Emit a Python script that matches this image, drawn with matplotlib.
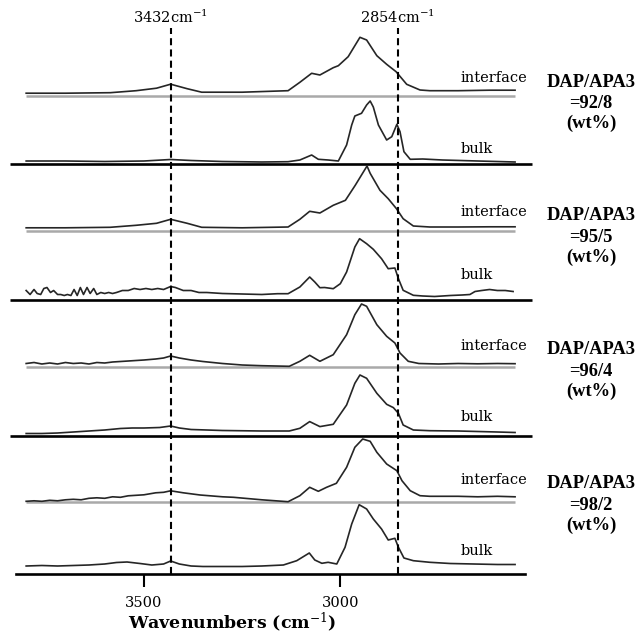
import matplotlib
matplotlib.use('Agg')
import matplotlib.pyplot as plt

plt.rcParams['mathtext.fontset'] = 'dejavuserif'

# ---------------- data (wavenumber, relative intensity) ----------------
groups = ['92/8', '95/5', '96/4', '98/2']
marker_wn = [3432, 2854]
xticks = [3500, 3000]

i1_wn = [3800, 3700, 3586, 3520, 3468, 3432, 3390, 3353, 3250, 3133, 3103, 3073, 3052, 3018, 3005,
         2980, 2950, 2933, 2907, 2882, 2858, 2831, 2797, 2772, 2700, 2620, 2555]
i1_h = [2.5, 2.5, 3, 5, 7.5, 11.5, 7, 3.5, 3.5, 5, 13.4, 22.4, 20.7, 28, 30,
        39, 58.4, 55.7, 40, 31.4, 24, 11.4, 5.7, 5, 5, 5.5, 5.5]

b1_wn = [3800, 3700, 3600, 3500, 3432, 3380, 3300, 3200, 3133, 3103, 3073, 3056, 3031, 3005, 2984,
         2971, 2963, 2946, 2933, 2924, 2916, 2903, 2882, 2869, 2856, 2848, 2838, 2822, 2790, 2740,
         2650, 2555]
b1_h = [3, 3, 2.5, 3, 4.5, 3.5, 2.5, 2, 2.3, 4, 9, 4.7, 4, 3, 19,
        39, 48, 50.7, 59, 63, 57, 39, 24, 27.3, 39.7, 32.3, 12.3, 4.7, 5, 4,
        3, 2]

i2_wn = [3800, 3700, 3586, 3520, 3468, 3432, 3390, 3353, 3250, 3133, 3103, 3078, 3052, 3018, 2987,
         2962, 2932, 2924, 2899, 2878, 2857, 2840, 2814, 2772, 2700, 2620, 2555]
i2_h = [3.5, 3.5, 4, 6, 8, 12, 8, 4, 3.5, 4.3, 12, 20, 18.3, 26, 31,
        46, 65.3, 58, 41, 32.6, 22.6, 12.6, 5.3, 4.3, 4.3, 4.5, 4.5]

b2_wn = [3800, 3790, 3780, 3772, 3763, 3755, 3747, 3738, 3730, 3720, 3712, 3703, 3695, 3686, 3678,
         3670, 3662, 3654, 3645, 3637, 3628, 3620, 3610, 3600, 3590, 3580, 3570, 3555, 3540, 3525,
         3510, 3495, 3480, 3465, 3450, 3432, 3420, 3400, 3380, 3360, 3340, 3300, 3250, 3200, 3160,
         3133, 3103, 3078, 3065, 3052, 3040, 3018, 3000, 2984, 2963, 2951, 2933, 2916, 2895, 2878,
         2861, 2852, 2840, 2814, 2790, 2760, 2720, 2690, 2670, 2657, 2640, 2620, 2600, 2580, 2560]
b2_h = [9, 5, 10, 6, 5, 11, 12, 7, 9, 5, 5, 4, 5, 4, 10,
        4, 12, 5, 12, 6, 11, 5, 7, 6, 7, 6, 7, 9, 9, 11,
        10, 11, 10, 11, 10, 13, 12, 9, 9, 7, 7, 6, 5.5, 5, 5.8,
        5.8, 12.5, 22.5, 17.5, 11.8, 12, 10.8, 15.8, 27.5, 52.5, 60.8, 55.8, 50.2, 40.8, 30.8,
        31.5, 20.8, 9.2, 4.2, 3.5, 3, 4, 4.5, 5, 8, 9, 10, 9, 9, 8]

i3_wn = [3800, 3780, 3760, 3740, 3720, 3700, 3680, 3660, 3640, 3620, 3600, 3580, 3560, 3540, 3520,
         3500, 3470, 3450, 3432, 3410, 3380, 3350, 3300, 3250, 3200, 3130, 3103, 3078, 3052, 3018,
         2984, 2963, 2946, 2933, 2907, 2882, 2861, 2848, 2827, 2800, 2750, 2700, 2650, 2600, 2555]
i3_h = [3.5, 4.5, 3, 4, 3, 4.5, 3.5, 4, 3, 4.5, 4, 5, 5.5, 6, 6.5,
        7, 8, 9, 11, 9, 7, 5.5, 3.5, 2, 1.3, 0.7, 5.7, 11.7, 5.7, 12.3,
        32.3, 52.3, 63, 60.7, 42.3, 30.7, 24, 14, 5.7, 3.5, 3, 3.5, 3.2, 3.5, 3.3]

b3_wn = [3800, 3760, 3720, 3680, 3640, 3600, 3560, 3530, 3500, 3460, 3432, 3410, 3380, 3300, 3200,
         3130, 3103, 3078, 3052, 3018, 2984, 2963, 2950, 2933, 2907, 2882, 2865, 2852, 2840, 2814,
         2772, 2700, 2650, 2600, 2555]
b3_h = [2.5, 2.5, 3, 4, 5, 6, 7.5, 8, 8, 8.5, 10, 8, 6.5, 5.5, 5,
        5, 7.7, 14.4, 9.4, 11.7, 31, 52.7, 61, 57.7, 42.7, 31.7, 28.4, 22.7, 11, 6,
        5.3, 5, 4.5, 4, 3.5]

i4_wn = [3800, 3780, 3760, 3740, 3720, 3700, 3680, 3660, 3640, 3620, 3600, 3580, 3560, 3540, 3520,
         3500, 3470, 3450, 3432, 3400, 3357, 3300, 3272, 3200, 3133, 3103, 3078, 3056, 3035, 3010,
         2984, 2963, 2943, 2924, 2907, 2882, 2856, 2843, 2822, 2797, 2772, 2700, 2650, 2600, 2555]
i4_h = [1, 1.5, 1, 2, 1.5, 2.5, 3, 2.5, 4, 4.5, 4, 5.5, 5, 6.5, 7,
        7.5, 9.5, 10, 11.5, 9.5, 7.3, 5.5, 5, 2.5, 0.6, 6.6, 15, 11, 15, 19,
        35, 55, 63.3, 61, 50, 38.3, 31.6, 21.6, 11.6, 6.6, 6, 6, 5.5, 6, 5.5]

b4_wn = [3800, 3760, 3720, 3680, 3640, 3600, 3570, 3543, 3510, 3480, 3450, 3432, 3410, 3380, 3350,
         3300, 3250, 3200, 3145, 3111, 3079, 3065, 3047, 3031, 3009, 2988, 2971, 2952, 2933, 2916,
         2895, 2878, 2861, 2852, 2838, 2814, 2772, 2720, 2660, 2600, 2555]
b4_h = [8, 8.5, 8, 8.5, 9, 10, 11.5, 12, 10.5, 9, 10, 13, 10, 8, 7.5,
        7.5, 7.5, 8, 9, 13.3, 21, 14, 10.7, 11.7, 10, 26.7, 50, 69.3, 65, 55,
        45, 34, 35.7, 26.7, 16, 13.3, 11.7, 10.5, 10, 9.5, 9.5]

interface_spectra = [(i1_wn, i1_h), (i2_wn, i2_h), (i3_wn, i3_h), (i4_wn, i4_h)]
bulk_spectra = [(b1_wn, b1_h), (b2_wn, b2_h), (b3_wn, b3_h), (b4_wn, b4_h)]

# ---------------- layout (pixel-based) ----------------
def px2wn(x):
    return 3196.5 - 2.5465 * (x - 263.15)

def py2y(py):
    return 574 - py

bulk_ref_py = [164, 299.5, 436, 574]
iface_ref_py = [95.7, 231.3, 367, 502.3]
iface_lab_py = [78.3, 211.7, 346, 480]
bulk_lab_py = [149.3, 275, 416.7, 550.7]
dap_lab_py = [82.7, 216, 350, 484]

serif = ['DejaVu Serif']
times = ['Liberation Serif', 'DejaVu Serif']

fig = plt.figure(figsize=(6.39, 6.33), dpi=100)
ax = fig.add_axes([16 / 639, (633 - 574) / 633, 509 / 639, 550 / 633])
ax.set_xlim(px2wn(16), px2wn(525))
ax.set_ylim(0, 550)

spec_color = '#262626'
wn_start, wn_end = 3800, 2555
for k in range(4):
    gy = py2y(iface_ref_py[k])
    by = py2y(bulk_ref_py[k])
    ax.plot([wn_start, wn_end], [gy, gy], color='#a9a9a9', lw=1.8, solid_capstyle='butt', zorder=1)
    if k < 3:
        ax.plot([px2wn(10), px2wn(532)], [by, by], color='black', lw=1.9,
                clip_on=False, solid_capstyle='butt', zorder=2)
    wn, h = interface_spectra[k]
    ax.plot(wn, [gy + v for v in h], color=spec_color, lw=1.2, zorder=3)
    wn, h = bulk_spectra[k]
    ax.plot(wn, [by + v for v in h], color=spec_color, lw=1.2, zorder=3)

    ax.text(px2wn(461), py2y(iface_lab_py[k]), 'interface', family=serif, fontsize=10.5,
            ha='left', va='center', clip_on=False)
    ax.text(px2wn(461), py2y(bulk_lab_py[k]), 'bulk', family=serif, fontsize=10.5,
            ha='left', va='center', clip_on=False)
    cx = px2wn(591)
    dy = py2y(dap_lab_py[k])
    ax.text(cx, dy, 'DAP/APA3', family=times, fontsize=13.3, fontweight='bold',
            ha='center', va='center', clip_on=False)
    ax.text(cx, dy - 21, '=' + groups[k], family=times, fontsize=13.3, fontweight='bold',
            ha='center', va='center', clip_on=False)
    ax.text(cx, dy - 41, '(wt%)', family=times, fontsize=13.3, fontweight='bold',
            ha='center', va='center', clip_on=False)

for m in marker_wn:
    ax.plot([m, m], [0, py2y(28)], color='black', lw=1.5, dashes=(3.4, 2.0), zorder=4,
            clip_on=False)
    ax.text(m, py2y(17), '%dcm$^{-1}$' % m, family=serif, fontsize=10.5,
            ha='center', va='center', clip_on=False)

for s in ['top', 'left', 'right']:
    ax.spines[s].set_visible(False)
ax.spines['bottom'].set_linewidth(1.9)
ax.set_yticks([])
ax.set_xticks(xticks)
ax.set_xticklabels([str(t) for t in xticks], family=serif, fontsize=10.5)
ax.tick_params(axis='x', direction='out', length=9.5, width=1.5, pad=6)
ax.set_xlabel('Wavenumbers (cm$^{-1}$)', family=serif, fontsize=12.5, fontweight='bold')
ax.xaxis.set_label_coords((232 - 16) / 509, (574 - 622) / 550)
ax.xaxis.label.set_va('center')

fig.savefig('out.png', dpi=100)
